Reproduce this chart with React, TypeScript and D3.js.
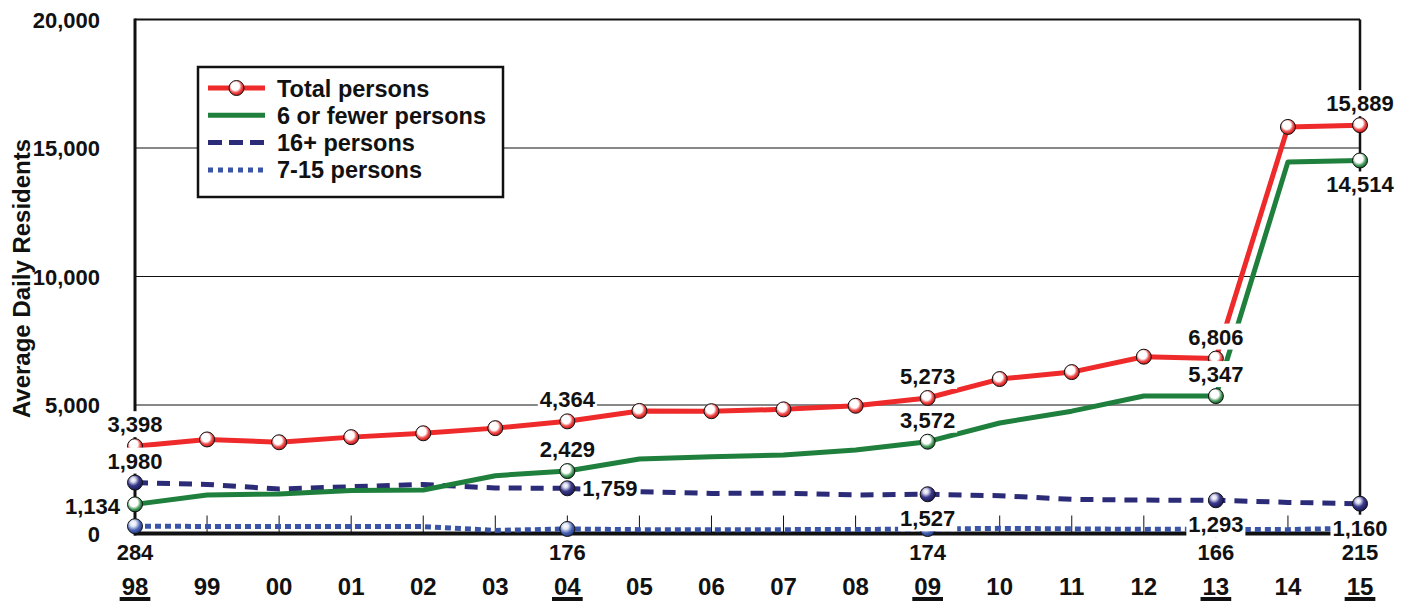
import React from 'react';
import * as d3 from 'd3';

const years = ['98','99','00','01','02','03','04','05','06','07','08','09','10','11','12','13','14','15'];
const highlightYears = ['98','04','09','13','15'];
const totalPersons = [3398,3660,3550,3750,3900,4100,4364,4770,4760,4830,4970,5273,6010,6280,6880,6806,15820,15889];
const sixOrFewer = [1134,1500,1540,1670,1690,2250,2429,2900,2990,3050,3250,3572,4300,4760,5350,5347,14460,14514];
const sixteenPlus = [1980,1910,1730,1820,1910,1770,1759,1630,1560,1570,1500,1527,1470,1330,1300,1293,1210,1160];
const sevenTo15 = [284,275,275,275,270,120,176,150,150,150,155,174,200,180,160,166,150,215];
const yTicks = [0, 5000, 10000, 15000, 20000];
const gridValues = [5000, 10000, 15000];

// label placement per series at highlighted years
const totalPlacement = ['above','above','above','above','above'];
const sixPlacement = ['left','above','above','above','below'];
const plusPlacement = ['above','right','below','below','below'];
const midPlacement = ['axis','axis','axis','axis','axis'];

const FONT = '"Liberation Sans", Arial, Helvetica, sans-serif';

const W = 1412, H = 601;
const x = d3.scalePoint<string>().domain(years).range([135, 1360]);
const y = d3.scaleLinear().domain([0, 20000]).range([533.5, 19.5]);

let ctx: CanvasRenderingContext2D | null = null;
function measure(s: string, size: number) {
  if (!ctx) ctx = document.createElement('canvas').getContext('2d');
  if (!ctx) return s.length * size * 0.55;
  ctx.font = `bold ${size}px ${FONT}`;
  return ctx.measureText(s).width;
}

const fmt = d3.format(',');

const series = [
  { key: 'total', name: 'Total persons', values: totalPersons, color: '#ee2a2a', grad: 'gRed', dash: '', allMarkers: true, placement: totalPlacement },
  { key: 'six', name: '6 or fewer persons', values: sixOrFewer, color: '#1f7f3c', grad: 'gGreen', dash: '', allMarkers: false, placement: sixPlacement },
  { key: 'plus', name: '16+ persons', values: sixteenPlus, color: '#2b2b78', grad: 'gNavy', dash: '13 9', allMarkers: false, placement: plusPlacement },
  { key: 'mid', name: '7-15 persons', values: sevenTo15, color: '#3a55a8', grad: 'gBlue', dash: '6 4', allMarkers: false, placement: midPlacement },
];

function Marker({ cx, cy, grad }: { cx: number; cy: number; grad: string }) {
  return <circle cx={cx} cy={cy} r={7.5} fill={`url(#${grad})`} stroke="#111" strokeWidth={1} />;
}

function Label({ text, cx, cy, anchor }: { text: string; cx: number; cy: number; anchor: 'middle' | 'start' | 'end' }) {
  const size = 22;
  const w = measure(text, size);
  let left = cx - w / 2;
  if (anchor === 'start') left = cx;
  if (anchor === 'end') left = cx - w;
  return (
    <g>
      <rect x={left - 2} y={cy - 13} width={w + 4} height={26} fill="#fff" />
      <text x={cx} y={cy + 8} textAnchor={anchor} fontFamily={FONT} fontWeight="bold" fontSize={size} fill="#111">{text}</text>
    </g>
  );
}

export default function App() {
  const line = d3.line<number>().x((_, i) => x(years[i]) as number).y(d => y(d));

  const labels: any[] = [];
  series.forEach(s => {
    highlightYears.forEach((yr, k) => {
      const i = years.indexOf(yr);
      const cx = x(yr) as number;
      const cy = y(s.values[i]);
      const pl = s.placement[k];
      const text = fmt(s.values[i]);
      if (pl === 'above') labels.push({ text, cx, cy: cy - 22, anchor: 'middle' });
      else if (pl === 'below') labels.push({ text, cx, cy: cy + 24, anchor: 'middle' });
      else if (pl === 'left') labels.push({ text, cx: cx - 15, cy: cy + 1.5, anchor: 'end' });
      else if (pl === 'right') labels.push({ text, cx: cx + 15, cy, anchor: 'start' });
      else if (pl === 'axis') labels.push({ text, cx, cy: y(0) + 18, anchor: 'middle' });
    });
  });

  const x0 = x.range()[0], x1 = x.range()[1];

  return (
    <svg width={W} height={H} style={{ position: 'absolute', left: 0, top: 0, background: '#fff' }}>
      <defs>
        <radialGradient id="gRed" cx="42%" cy="38%" r="60%">
          <stop offset="0" stopColor="#fff" />
          <stop offset="0.45" stopColor="#fff" />
          <stop offset="0.72" stopColor="#f05050" />
          <stop offset="1" stopColor="#cc1a1a" />
        </radialGradient>
        <radialGradient id="gGreen" cx="42%" cy="38%" r="60%">
          <stop offset="0" stopColor="#fff" />
          <stop offset="0.45" stopColor="#fff" />
          <stop offset="0.75" stopColor="#4e9e62" />
          <stop offset="1" stopColor="#16692e" />
        </radialGradient>
        <radialGradient id="gNavy" cx="38%" cy="32%" r="65%">
          <stop offset="0" stopColor="#fff" />
          <stop offset="0.25" stopColor="#d8d8ee" />
          <stop offset="0.6" stopColor="#3a3a8c" />
          <stop offset="1" stopColor="#1c1c5c" />
        </radialGradient>
        <radialGradient id="gBlue" cx="38%" cy="32%" r="65%">
          <stop offset="0" stopColor="#fff" />
          <stop offset="0.3" stopColor="#e2e8f6" />
          <stop offset="0.7" stopColor="#4a64b4" />
          <stop offset="1" stopColor="#2a3f8a" />
        </radialGradient>
      </defs>

      {/* grid lines */}
      {gridValues.map(v => (
        <line key={v} x1={x0} x2={x1} y1={y(v)} y2={y(v)} stroke="#111" strokeWidth={1} />
      ))}
      {/* inner x ticks */}
      {years.map(yr => (
        <line key={yr} x1={x(yr)} x2={x(yr)} y1={y(0) - 18} y2={y(0)} stroke="#111" strokeWidth={1} />
      ))}
      {/* frame */}
      <line x1={x0} x2={x1} y1={y(20000)} y2={y(20000)} stroke="#111" strokeWidth={2} />
      <line x1={x1} x2={x1} y1={y(20000)} y2={y(0)} stroke="#111" strokeWidth={2.5} />
      <line x1={x0} x2={x0} y1={y(20000) - 1} y2={y(0) + 2} stroke="#111" strokeWidth={3} />
      <line x1={x0 - 1} x2={x1 + 1} y1={y(0)} y2={y(0)} stroke="#111" strokeWidth={4} />

      {/* y tick labels */}
      {yTicks.map(v => (
        <text key={v} x={100} y={y(v) + 8} textAnchor="end" fontFamily={FONT} fontWeight="bold" fontSize={22} fill="#111">{fmt(v)}</text>
      ))}
      <text transform={`translate(30,${(y(0) + y(20000)) / 2 + 2}) rotate(-90)`} textAnchor="middle" fontFamily={FONT} fontWeight="bold" fontSize={24} fill="#111">Average Daily Residents</text>

      {/* x labels */}
      {years.map(yr => {
        const hl = highlightYears.includes(yr);
        const w = measure(yr, 24);
        return (
          <g key={yr}>
            <text x={x(yr)} y={595} textAnchor="middle" fontFamily={FONT} fontWeight="bold" fontSize={24} fill="#111">{yr}</text>
            {hl && <rect x={(x(yr) as number) - w / 2 - 2} y={597} width={w + 4} height={4} fill="#111" />}
          </g>
        );
      })}

      {/* lines, bottom-most first */}
      {[...series].reverse().map(s => (
        <path key={s.key} d={line(s.values) || ''} fill="none" stroke={s.color} strokeWidth={5} strokeDasharray={s.dash || undefined} strokeLinejoin="round" />
      ))}

      {/* markers */}
      {[...series].reverse().map(s => (
        <g key={s.key}>
          {years.map((yr, i) => (s.allMarkers || highlightYears.includes(yr)) ? (
            <Marker key={yr} cx={x(yr) as number} cy={y(s.values[i])} grad={s.grad} />
          ) : null)}
        </g>
      ))}

      {/* data labels */}
      {labels.map((l, i) => <Label key={i} {...l} />)}

      {/* legend */}
      <g>
        <rect x={198} y={67} width={305} height={130} fill="#fff" stroke="#111" strokeWidth={2.5} />
        {series.map((s, i) => {
          const cy = 88 + i * 27.3;
          return (
            <g key={s.key}>
              <line x1={208} x2={265} y1={cy} y2={cy} stroke={s.color} strokeWidth={5} strokeDasharray={s.key === 'plus' ? '14 7' : s.key === 'mid' ? '5 5' : undefined} />
              {s.key === 'total' && <Marker cx={236.5} cy={cy} grad={s.grad} />}
              <text x={277} y={cy + 8.5} fontFamily={FONT} fontWeight="bold" fontSize={23.5} fill="#111">{s.name}</text>
            </g>
          );
        })}
      </g>
    </svg>
  );
}
